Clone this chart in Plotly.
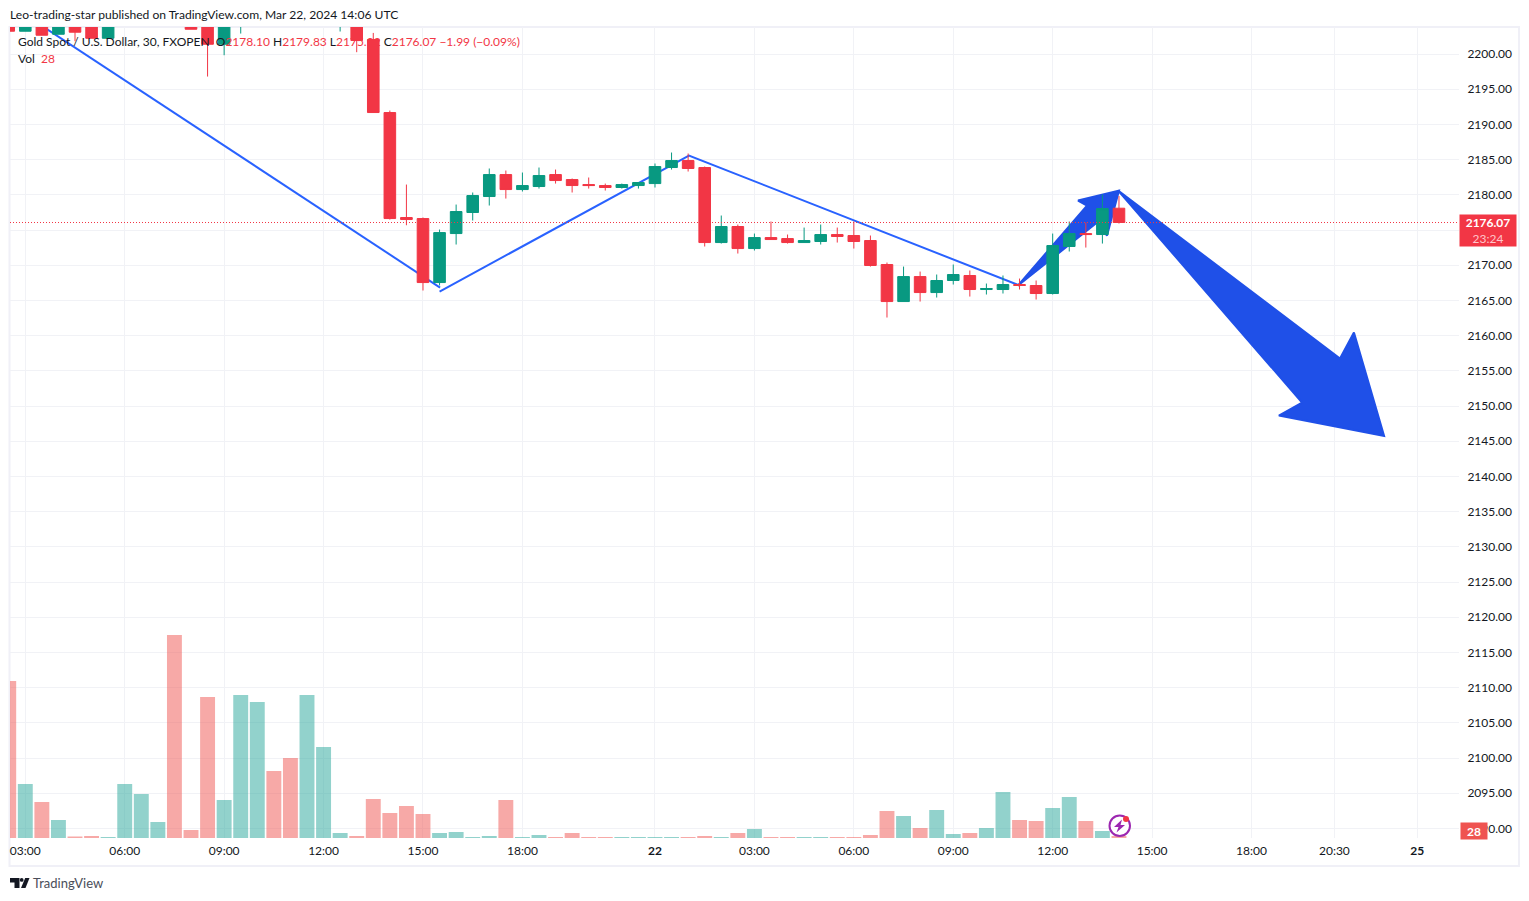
import plotly.graph_objects as go

# bar numbers (30 minute bars, 0 = 03:00 on the 21st)
BARS = list(range(-1, 67))
OPEN = [2204.5,2203.24,2205.2,2202.81,2205.0,2205.5,2202.24,2206.0,2208.0,2210.0,2211.0,2207.0,2206.0,2201.39,2206.0,2208.0,2212.0,2210.0,2207.0,2210.0,2206.0,2206.0,2202.06,2191.69,
        2176.78,2176.63,2167.54,2174.50,2177.49,2179.76,2182.88,2180.75,2181.18,2182.88,2182.17,2181.46,2181.32,2181.04,2181.32,2181.60,2183.88,2184.87,2183.88,2173.22,2175.50,
        2172.37,2173.93,2173.79,2173.22,2173.37,2174.36,2174.22,2173.51,2170.10,2164.84,2168.39,2166.12,2167.83,2168.54,2166.55,2166.55,2167.26,2167.12,2165.98,2172.66,2174.50,2174.36,2178.10]
HIGH = [2205.0,2206.0,2206.0,2206.0,2205.5,2206.0,2207.0,2209.0,2211.0,2211.5,2212.0,2207.5,2208.0,2207.0,2208.5,2212.5,2213.0,2212.5,2211.0,2212.5,2208.0,2207.0,2203.0,2191.97,
        2181.46,2176.78,2175.07,2178.62,2180.33,2183.74,2183.45,2183.17,2183.88,2183.59,2182.32,2182.46,2181.60,2181.60,2181.75,2184.45,2186.01,2185.87,2184.02,2177.06,2175.78,
        2174.50,2176.21,2174.36,2175.35,2175.78,2175.35,2176.21,2174.22,2170.38,2169.81,2169.10,2168.68,2170.10,2169.25,2167.40,2168.54,2168.11,2167.83,2174.50,2176.21,2176.06,2180.04,2179.83]
LOW = [2203.24,2203.24,2202.67,2202.81,2201.82,2202.24,2202.24,2205.0,2207.0,2209.0,2205.0,2203.52,2196.80,2199.83,2202.91,2206.0,2208.0,2205.0,2205.0,2208.0,2203.20,2200.26,2191.69,2176.49,
        2175.68,2166.41,2167.12,2172.94,2176.35,2178.48,2179.47,2180.47,2180.89,2181.60,2180.33,2180.89,2180.61,2180.89,2180.89,2181.04,2183.59,2183.31,2172.66,2173.08,2171.66,
        2172.09,2173.65,2173.08,2173.22,2172.94,2173.22,2172.37,2169.81,2162.57,2164.84,2164.84,2165.41,2167.26,2165.55,2165.84,2165.98,2166.55,2165.13,2165.84,2171.95,2172.51,2173.08,2175.92]
CLOSE = [2203.24,2205.0,2202.67,2205.0,2203.10,2202.24,2206.0,2208.0,2210.0,2211.0,2207.0,2203.52,2201.39,2206.0,2208.0,2212.0,2210.0,2207.0,2210.0,2212.0,2207.0,2201.92,2191.69,2176.63,
         2176.49,2167.54,2174.64,2177.63,2179.90,2182.88,2180.75,2181.32,2182.74,2182.03,2181.32,2181.32,2181.04,2181.46,2181.75,2184.02,2184.87,2183.74,2173.22,2175.50,2172.37,
         2173.93,2173.65,2173.22,2173.51,2174.36,2174.08,2173.37,2169.96,2164.84,2168.39,2166.12,2167.83,2168.68,2166.55,2166.69,2167.26,2167.12,2165.98,2172.80,2174.50,2174.36,2178.05,2176.07]
VOLUME = [2198,756,504,252,21,28,14,756,616,224,2842,112,1974,532,2002,1904,938,1120,2002,1274,70,28,546,350,
          448,336,70,84,14,28,532,14,42,14,70,14,14,14,14,14,14,14,28,14,70,126,14,14,14,14,14,14,42,378,308,140,392,56,70,140,644,252,238,420,574,238,98,28]

# drawings placed on the chart
LINE_X = [0.1, 25.03, None, 25.0, 40.05, 60.0]
LINE_Y = [2205.4, 2166.83, None, 2166.26, 2185.58, 2167.12]
UP_ARROW_X = [59.91, 64.07, 63.53, 66.0, 65.28, 64.68, 59.91]
UP_ARROW_Y = [2167.12, 2178.48, 2179.19, 2180.61, 2174.22, 2176.07, 2167.12]
DOWN_ARROW_X = [65.95, 79.34, 80.18, 82.0, 75.65, 77.05, 65.95]
DOWN_ARROW_Y = [2180.61, 2156.75, 2160.44, 2145.75, 2148.65, 2150.50, 2180.61]

LAST_PRICE = 2176.07
X_RANGE = [-0.923, 86.52]
Y_RANGE = [2088.64, 2203.84]
VOL_RANGE = [0, 11354]
TIME_TICKS = [0, 6, 12, 18, 24, 30, 38, 44, 50, 56, 62, 68, 74, 79, 84]
TIME_LABELS = ["03:00","06:00","09:00","12:00","15:00","18:00","<b>22</b>","03:00","06:00","09:00","12:00","15:00","18:00","20:30","<b>25</b>"]
PRICE_TICKS = list(range(2090, 2205, 5))
# the 2175 label is hidden behind the last-price tag in the reference
PRICE_LABELS = ["" if p == 2175 else f"{p}.00" for p in PRICE_TICKS]

FONT = "Lato"
INK = "#131722"
UP = "#089981"
DOWN = "#F23645"
GRID = "#f1f2f6"
BLUE_LINE = "#2962ff"
BLUE_FILL = "#1f50e8"
red = lambda t: f'<span style="color:{DOWN}">{t}</span>'
LEGEND_LINES = [
    "Gold Spot / U.S. Dollar, 30, FXOPEN \u00a0O" + red("2178.10") + " H" + red("2179.83") + " L" + red("2175.92")
    + " C" + red("2176.07") + " " + red("−1.99 (−0.09%)"),
    "Vol  " + red("28"),
]

fig = go.Figure()
# primary axes: sit beneath the candles
fig.add_trace(go.Scatter(x=UP_ARROW_X, y=UP_ARROW_Y, mode="lines", fill="toself", fillcolor=BLUE_FILL,
                         line=dict(color=BLUE_FILL, width=2), hoverinfo="skip"))
fig.add_trace(go.Scatter(x=DOWN_ARROW_X, y=DOWN_ARROW_Y, mode="lines", fill="toself", fillcolor=BLUE_FILL,
                         line=dict(color=BLUE_FILL, width=2), hoverinfo="skip"))
fig.add_trace(go.Scatter(x=LINE_X, y=LINE_Y, mode="lines", line=dict(color=BLUE_LINE, width=2), hoverinfo="skip"))
# volume
fig.add_trace(go.Bar(x=BARS, y=VOLUME, yaxis="y3", width=0.9,
                     marker=dict(color=["rgba(38,166,154,0.5)" if c >= o else "rgba(239,83,80,0.5)" for o, c in zip(OPEN, CLOSE)],
                                 line=dict(width=0)), hoverinfo="skip"))
# candles
fig.add_trace(go.Candlestick(x=BARS, open=OPEN, high=HIGH, low=LOW, close=CLOSE, yaxis="y2",
                             whiskerwidth=0,
                             increasing=dict(line=dict(color=UP, width=1), fillcolor=UP),
                             decreasing=dict(line=dict(color=DOWN, width=1), fillcolor=DOWN),
                             hoverinfo="skip"))
fig.add_trace(go.Scatter(x=X_RANGE, y=[LAST_PRICE, LAST_PRICE], yaxis="y2", mode="lines",
                         line=dict(color=DOWN, width=1, dash="1px 2px"), hoverinfo="skip"))

L, T, PW, PH = 10, 27, 1449, 811
pxx = lambda x: (x - L) / PW
pxy = lambda y: (T + PH - y) / PH
rx = lambda x: x - L
ry = lambda y: T + PH - y

def pixel_shape(**kw):
    return dict(xref="paper", yref="paper", xsizemode="pixel", ysizemode="pixel", xanchor=0, yanchor=0, **kw)

def path(points):
    return "M" + " L".join(f"{rx(x)} {ry(y)}" for x, y in points) + " Z"

shapes = [
    dict(type="rect", xref="paper", yref="paper", x0=pxx(9.5), x1=pxx(1519), y0=pxy(866), y1=pxy(27),
         line=dict(color="#f0f0f7", width=2), layer="below"),
    # TradingView mark
    pixel_shape(type="path", path=path([(10,878),(19.5,878),(19.5,888),(14.5,888),(14.5,882.5),(10,882.5)]),
                fillcolor="#131722", line=dict(width=0)),
    pixel_shape(type="circle", x0=rx(19.8), x1=rx(23.6), y0=ry(878), y1=ry(881.8), fillcolor="#131722", line=dict(width=0)),
    pixel_shape(type="path", path=path([(25.2,878),(29.5,878),(25.5,888),(21.0,888)]), fillcolor="#131722", line=dict(width=0)),
    # lightning badge
    pixel_shape(type="circle", x0=rx(1109.5), x1=rx(1130), y0=ry(815.5), y1=ry(836), fillcolor="white",
                line=dict(color="#9c27b0", width=2)),
    pixel_shape(type="path", path=path([(1122,819.5),(1114,827),(1118.5,827),(1116.5,832.5),(1125,825),(1120.5,825)]),
                fillcolor="#9c27b0", line=dict(width=0)),
    pixel_shape(type="circle", x0=rx(1123), x1=rx(1129), y0=ry(816), y1=ry(822), fillcolor=DOWN,
                line=dict(width=0)),
]

annotations = [
    dict(text="Leo-trading-star published on TradingView.com, Mar 22, 2024 14:06 UTC", xref="paper", yref="paper",
         x=pxx(8), y=pxy(14.5), xanchor="left", yanchor="middle", showarrow=False, font=dict(family=FONT, size=12.1, color=INK)),
    dict(text=LEGEND_LINES[0], xref="paper", yref="paper", x=pxx(16), y=pxy(41), xanchor="left", yanchor="middle",
         showarrow=False, font=dict(family=FONT, size=12, color=INK)),
    dict(text=LEGEND_LINES[1], xref="paper", yref="paper", x=pxx(16), y=pxy(58.5), xanchor="left", yanchor="middle",
         showarrow=False, font=dict(family=FONT, size=12, color=INK)),
    dict(text="TradingView", xref="paper", yref="paper", x=pxx(31), y=pxy(883), xanchor="left", yanchor="middle",
         showarrow=False, font=dict(family=FONT, size=13, color="#4a4e59")),
    dict(text='<b>2176.07</b><br><span style="color:#ffc4c9">23:24</span>', xref="paper", yref="paper",
         x=pxx(1459), y=pxy(214), xanchor="left", yanchor="top", width=56, height=31, bgcolor=DOWN, borderpad=0,
         showarrow=False, align="center", font=dict(family=FONT, size=12, color="white")),
    dict(text="<b>28</b>", xref="paper", yref="paper", x=pxx(1460), y=pxy(822), xanchor="left", yanchor="top",
         width=26, height=16, bgcolor="#ef5350", borderpad=0, showarrow=False, align="center",
         font=dict(family=FONT, size=12, color="white")),
]

fig.update_layout(
    width=1529, height=901, margin=dict(l=L, r=1529 - L - PW, t=T, b=901 - T - PH, pad=0, autoexpand=False),
    paper_bgcolor="white", plot_bgcolor="white", showlegend=False, boxgap=0, barmode="overlay",
    font=dict(family=FONT, size=12, color=INK), shapes=shapes, annotations=annotations,
    xaxis=dict(range=X_RANGE, tickmode="array", tickvals=TIME_TICKS, ticktext=TIME_LABELS, showgrid=True, gridcolor=GRID,
               gridwidth=1, zeroline=False, showline=False, ticks="outside", ticklen=2, tickcolor="rgba(0,0,0,0)",
               tickfont=dict(family=FONT, size=12, color=INK), rangeslider=dict(visible=False), fixedrange=True),
    yaxis=dict(range=Y_RANGE, side="right", tickmode="array", tickvals=PRICE_TICKS, ticktext=PRICE_LABELS, showgrid=True,
               gridcolor=GRID, gridwidth=1, zeroline=False, showline=False, ticks="outside", ticklen=5,
               tickcolor="rgba(0,0,0,0)", tickfont=dict(family=FONT, size=12, color=INK), fixedrange=True),
    yaxis2=dict(range=Y_RANGE, overlaying="y", side="right", visible=False, fixedrange=True),
    yaxis3=dict(range=VOL_RANGE, overlaying="y", side="left", visible=False, fixedrange=True),
)
fig.write_html("out.html", config=dict(displayModeBar=False),
               post_script="document.body.style.margin='0';document.body.style.overflow='hidden';")
